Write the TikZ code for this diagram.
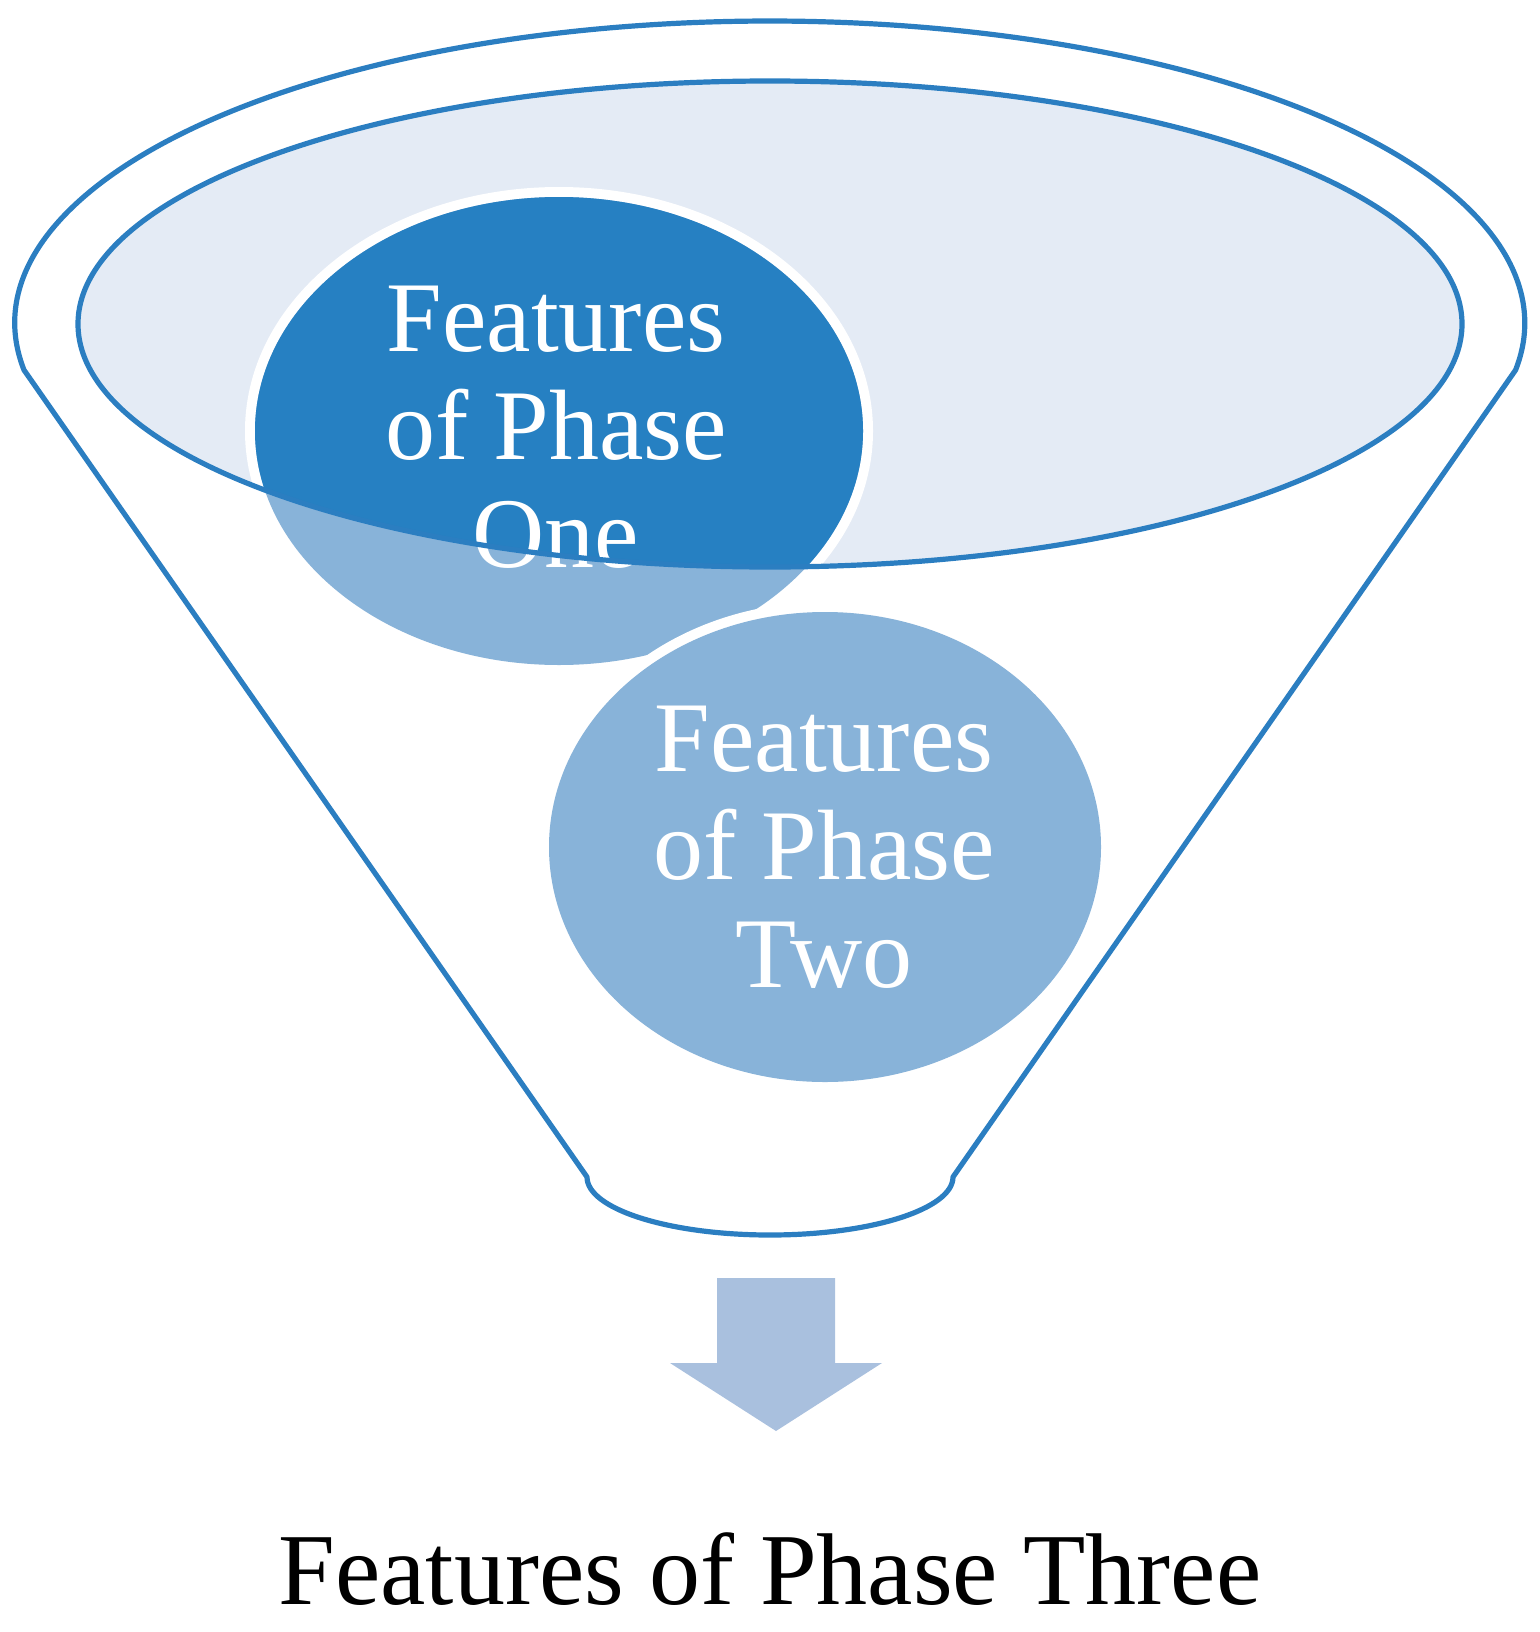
\documentclass[tikz,border=0pt]{standalone}
\usepackage{fontspec}
\setmainfont{Liberation Serif}
\usetikzlibrary{positioning}
\definecolor{funnelblue}{RGB}{43,126,193}
\definecolor{rimfill}{RGB}{228,235,245}
\definecolor{deepblue}{RGB}{38,128,194}
\definecolor{paleblue}{RGB}{136,179,217}
\definecolor{arrowblue}{RGB}{169,192,222}
\tikzset{
  rim/.style={draw=funnelblue, line width=2.6pt, line join=round},
  halo/.style={draw=white, line width=10pt},
  lbl/.style={font=\fontsize{50}{54}\selectfont, text=white, align=center,
              inner sep=0pt, anchor=north},
  outlbl/.style={font=\fontsize{51}{56}\selectfont, inner sep=0pt, anchor=north},
}

\begin{document}
\begin{tikzpicture}[x=0.5pt, y=-0.5pt]
  \useasboundingbox (0,0) rectangle (1539,1632);
  % funnel outline
  \coordinate (lk) at (24,370);
  \coordinate (rb) at (953,1177);
  \draw[rim] (587,1177) -- (lk)
    arc[start angle=171.05, end angle=368.95, x radius=755, y radius=302]
    -- (rb) arc[start angle=0, end angle=180, x radius=183, y radius=58] -- cycle;
  % mouth of the funnel
  \fill[rimfill] (770,324) ellipse [x radius=692, y radius=243];
  % phase one bubble
  \draw[halo] (559,431) ellipse [x radius=304, y radius=234];
  \fill[paleblue] (559,431) ellipse [x radius=304, y radius=234];
  \begin{scope}
    \clip (770,324) ellipse [x radius=692, y radius=243];
    \fill[deepblue] (559,431) ellipse [x radius=304, y radius=234];
  \end{scope}
  \node[lbl] (phaseone) at (556,286) {Features\\of Phase\\One};
  \draw[rim] (770,324) ellipse [x radius=692, y radius=243];
  % phase two bubble
  \draw[halo] (825,847) ellipse [x radius=276, y radius=235];
  \fill[paleblue] (825,847) ellipse [x radius=276, y radius=235];
  \node[lbl] (phasetwo) at (824,706) {Features\\of Phase\\Two};
  % output arrow
  \fill[arrowblue] (717,1278) -- (835,1278) -- (835,1363) -- (882,1363)
    -- (776,1431) -- (670,1363) -- (717,1363) -- cycle;
  \node[outlbl] (phasethree) at (770,1532) {Features of Phase Three};
\end{tikzpicture}
\end{document}
